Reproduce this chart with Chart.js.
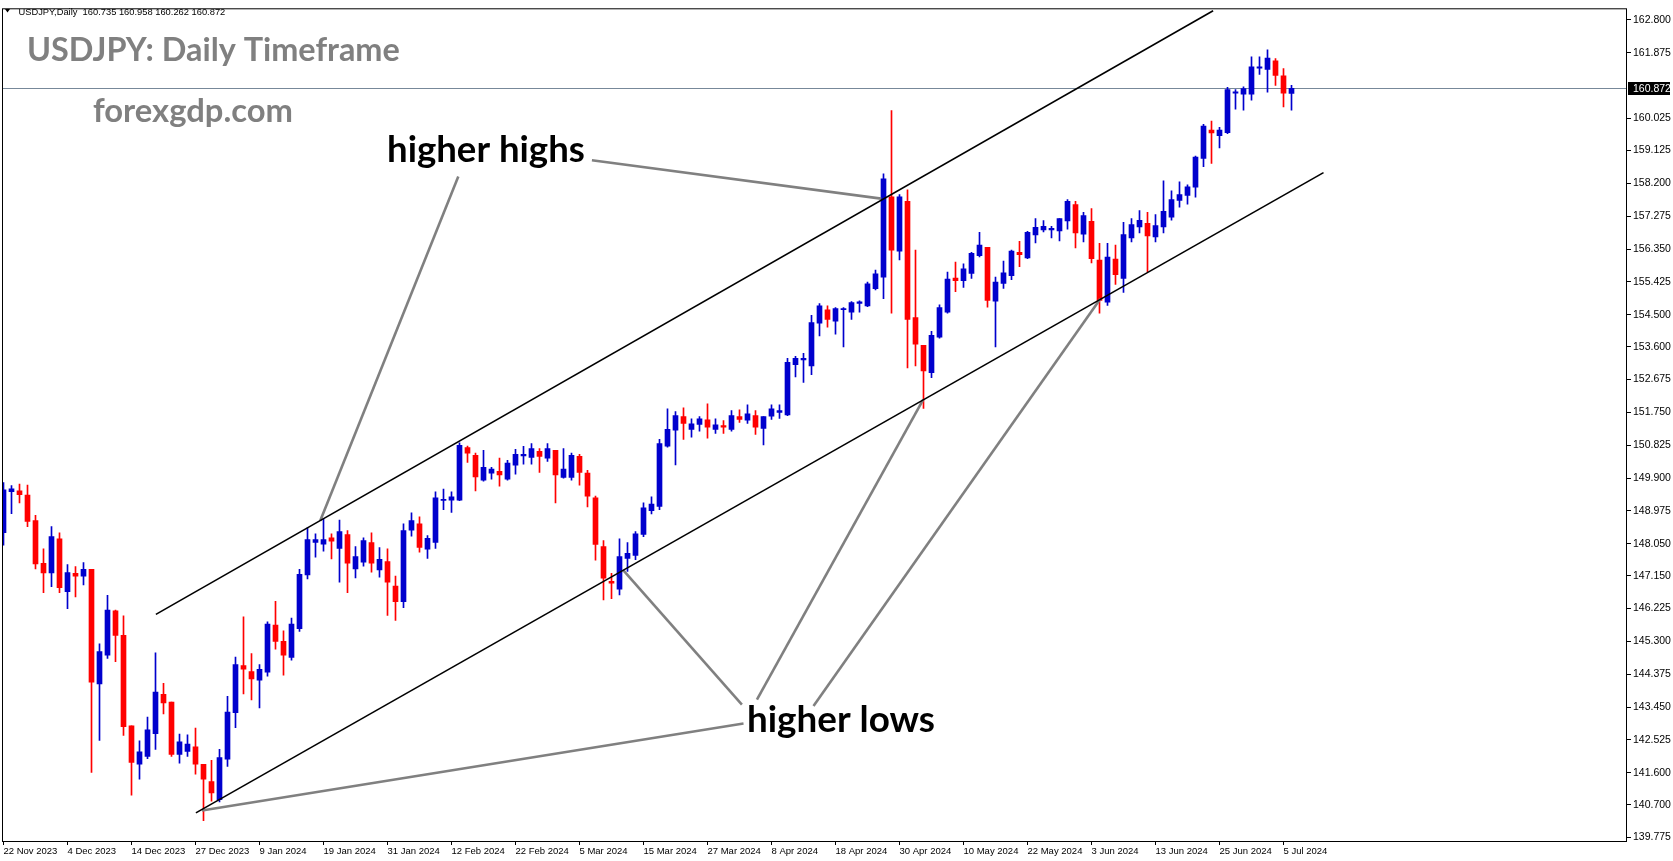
<!DOCTYPE html>
<html>
<head>
<meta charset="utf-8">
<script src="https://cdn.jsdelivr.net/npm/chart.js@4.4.0/dist/chart.umd.min.js"></script>
<style>
  html, body { margin: 0; padding: 0; background: #fff; overflow: hidden; }
  canvas { display: block; }
</style>
</head>
<body>
<canvas id="myChart" width="1673" height="861"></canvas>
<script>
// USDJPY daily, 22 Nov 2023 .. 8 Jul 2024 (one entry per bar)
var opens = [148.36,149.52,149.54,149.42,148.70,147.50,147.23,148.19,146.70,147.22,147.14,147.33,144.10,144.91,146.16,145.47,142.92,141.84,142.06,142.70,
  143.81,143.59,142.12,142.20,142.33,141.84,141.35,140.84,141.98,143.29,144.62,144.45,144.21,144.43,145.76,145.30,144.85,145.66,147.17,148.09,
  148.04,148.22,147.92,148.31,147.34,147.53,148.08,147.31,147.55,146.86,146.42,148.43,148.61,147.90,148.09,149.27,149.28,149.28,150.76,150.54,
  149.84,150.04,150.09,149.87,150.26,150.52,150.48,150.65,150.46,150.68,149.92,149.92,150.51,150.04,149.34,147.97,146.99,146.77,147.64,147.72,
  148.31,148.98,149.10,150.80,151.25,151.63,151.27,151.41,151.54,151.27,151.38,151.27,151.63,151.53,151.66,151.30,151.64,151.75,151.68,153.09,
  153.23,153.06,154.26,154.64,154.32,154.64,154.57,154.82,154.75,155.23,155.56,157.82,156.29,157.69,154.42,153.64,152.87,153.87,154.57,155.53,
  155.46,155.66,156.16,156.40,154.88,155.38,155.60,156.26,156.10,156.75,156.89,156.89,156.86,157.14,157.60,156.77,157.13,156.04,154.85,156.07,
  155.52,156.66,156.97,157.07,156.69,156.97,157.25,157.72,157.86,158.09,158.90,159.70,159.54,159.63,160.74,160.71,160.71,161.44,161.41,161.65,
  161.23,160.735];
var highs = [149.77,149.69,149.73,149.70,148.85,147.91,148.53,148.36,147.46,147.41,147.52,147.33,145.23,146.60,146.18,146.02,142.92,142.50,143.17,144.98,
  144.12,143.59,142.69,142.67,142.86,141.84,141.95,142.26,143.75,144.86,145.99,144.96,144.65,145.85,146.43,145.60,145.96,147.33,148.50,148.33,
  148.75,148.33,148.72,148.42,147.97,148.22,148.36,147.94,147.91,147.14,148.61,148.92,148.81,148.28,149.51,149.59,149.51,150.89,150.80,150.60,
  150.68,150.20,150.46,150.40,150.71,150.79,150.87,150.73,150.87,150.68,150.73,150.60,150.57,150.12,149.39,148.14,147.22,148.19,148.08,148.39,
  149.20,149.37,150.99,151.85,151.77,151.88,151.57,151.63,151.99,151.57,151.52,151.80,151.82,151.96,151.80,151.63,151.96,151.96,153.27,153.33,
  153.41,154.48,154.81,154.75,154.70,154.70,154.87,154.89,155.42,155.76,158.47,160.25,157.88,158.02,156.32,153.64,154.03,154.78,155.70,155.98,
  155.93,156.26,156.82,156.40,155.56,156.01,156.32,156.57,156.85,157.21,157.15,156.99,157.21,157.74,157.69,157.38,157.49,156.51,156.51,156.46,
  157.10,157.21,157.43,157.38,157.32,158.27,157.99,158.24,158.16,158.97,159.86,159.95,159.78,160.90,160.84,160.92,161.76,161.76,161.96,161.71,
  161.43,160.958];
var lows = [148.01,148.90,149.20,148.53,147.34,146.67,146.84,146.67,146.22,146.55,146.89,141.61,142.51,144.82,144.73,142.65,140.97,141.42,142.00,142.26,
  143.26,142.06,141.87,142.06,141.56,140.25,140.80,140.78,141.78,142.87,143.82,143.65,143.43,144.32,145.08,144.35,144.77,145.58,147.06,147.67,
  147.84,147.62,146.97,146.67,147.09,147.42,147.25,147.11,146.03,145.89,146.25,148.26,147.81,147.64,147.92,149.01,148.93,149.26,150.34,149.54,
  149.81,149.87,149.67,149.84,150.01,150.29,150.29,150.06,150.37,149.20,149.90,149.84,149.70,149.09,147.59,146.47,146.50,146.61,147.27,147.60,
  148.25,148.89,149.01,150.77,150.27,150.99,151.05,151.22,151.02,151.16,151.16,151.22,151.47,151.44,151.13,150.83,151.55,151.58,151.66,152.75,
  152.59,152.81,153.90,154.15,153.95,153.59,154.37,154.57,154.73,155.20,154.95,154.54,156.04,153.00,153.06,151.86,152.73,153.84,154.54,155.15,
  155.27,155.52,156.13,154.71,153.59,155.24,155.49,155.85,156.08,156.52,156.83,156.66,156.58,156.91,156.38,156.55,155.96,154.54,154.76,155.35,
  155.13,156.55,156.80,155.71,156.55,156.80,157.16,157.53,157.61,157.81,158.67,158.76,159.20,159.60,160.29,160.26,160.54,161.27,160.77,160.96,
  160.35,160.262];
var closes = [149.57,149.60,149.43,148.68,147.48,147.23,148.25,146.81,147.24,147.14,147.33,144.15,145.01,146.18,145.47,142.90,141.89,142.19,142.81,143.87,
  143.57,142.12,142.47,142.41,141.84,141.42,141.03,142.03,143.31,144.65,144.52,144.24,144.51,145.79,145.30,144.91,145.79,147.19,148.17,148.17,
  148.17,148.12,148.39,147.50,147.69,148.14,147.50,147.61,146.97,146.42,148.42,148.70,147.95,148.20,149.34,149.29,149.37,150.82,150.60,149.93,
  150.20,150.15,149.99,150.32,150.57,150.57,150.73,150.51,150.73,149.99,150.15,150.54,150.06,149.39,148.03,147.08,146.94,147.69,147.78,148.33,
  149.06,149.17,150.87,151.27,151.66,151.44,151.43,151.57,151.33,151.40,151.33,151.66,151.55,151.71,151.33,151.63,151.85,151.80,153.16,153.27,
  153.27,154.28,154.75,154.37,154.67,154.67,154.84,154.86,155.37,155.65,158.33,156.32,157.82,154.37,153.67,152.92,153.92,154.70,155.50,155.46,
  155.79,156.23,156.46,154.90,155.42,155.68,156.29,156.19,156.82,156.96,156.99,156.93,157.21,157.69,156.80,157.29,156.08,154.90,156.12,155.63,
  156.76,157.04,157.16,156.72,157.01,157.41,157.74,157.88,158.10,158.94,159.81,159.62,159.70,160.84,160.78,160.87,161.48,161.48,161.73,161.24,
  160.74,160.872];

var tickLabels = ['22 Nov 2023','4 Dec 2023','14 Dec 2023','27 Dec 2023','9 Jan 2024','19 Jan 2024','31 Jan 2024','12 Feb 2024',
  '22 Feb 2024','5 Mar 2024','15 Mar 2024','27 Mar 2024','8 Apr 2024','18 Apr 2024','30 Apr 2024','10 May 2024','22 May 2024',
  '3 Jun 2024','13 Jun 2024','25 Jun 2024','5 Jul 2024'];
var barsPerTick = 8;
var priceTicks = [162.8,161.875,160.025,159.125,158.2,157.275,156.35,155.425,154.5,153.6,152.675,151.75,150.825,149.9,
  148.975,148.05,147.15,146.225,145.3,144.375,143.45,142.525,141.6,140.7,139.775];

// channel lines and pointer lines, in (bar index, price)
var upperChannel = [{x: 19.05, y: 146.06}, {x: 151.2, y: 163.06}];
var lowerChannel = [{x: 24.05, y: 140.47}, {x: 165, y: 158.5}];
var highsPointers = [
  [{x: 73.55, y: 158.85}, {x: 109.71, y: 157.77}],
  [{x: 56.85, y: 158.39}, {x: 39.59, y: 148.70}]
];
var lowsPointers = [
  [{x: 92.5, y: 142.99}, {x: 24.8, y: 140.54}],
  [{x: 92.3, y: 143.52}, {x: 77.46, y: 147.31}],
  [{x: 94.18, y: 143.66}, {x: 114.96, y: 152.11}],
  [{x: 101.25, y: 143.48}, {x: 137.09, y: 154.94}]
];

var bullColor = '#0000cd';
var bearColor = '#ff0000';
var candleColors = closes.map(function (c, i) { return c >= opens[i] ? bullColor : bearColor; });
var bodies = opens.map(function (o, i) { return {x: i, y: [o, closes[i]]}; });
var wicks = highs.map(function (h, i) { return {x: i, y: [lows[i], h]}; });
var tickIdx = tickLabels.map(function (t, i) { return i * barsPerTick; });

function segment(points, color, width) {
  return {type: 'line', data: points, borderColor: color, borderWidth: width,
          pointRadius: 0, fill: false, tension: 0};
}

function fitText(ctx, text, x, y, width, weight, family, color) {
  ctx.font = weight + ' 100px ' + family;
  var size = 100 * width / ctx.measureText(text).width;
  ctx.font = weight + ' ' + size.toFixed(2) + 'px ' + family;
  ctx.fillStyle = color;
  ctx.textAlign = 'left';
  ctx.textBaseline = 'alphabetic';
  ctx.fillText(text, x, y);
}

var decor = {
  id: 'decor',
  beforeDraw: function (chart) {
    var ctx = chart.ctx;
    ctx.save();
    ctx.fillStyle = '#fff';
    ctx.fillRect(0, 0, chart.width, chart.height);
    ctx.restore();
  },
  beforeDatasetsDraw: function (chart) {
    var ctx = chart.ctx, a = chart.chartArea;
    var y = Math.round(chart.scales.y.getPixelForValue(closes[closes.length - 1])) + 0.5;
    ctx.save();
    ctx.strokeStyle = '#778899';
    ctx.lineWidth = 1;
    ctx.beginPath();
    ctx.moveTo(a.left, y);
    ctx.lineTo(a.right, y);
    ctx.stroke();
    ctx.restore();
  },
  afterDraw: function (chart) {
    var ctx = chart.ctx, a = chart.chartArea;
    ctx.save();
    ctx.strokeStyle = '#000';
    ctx.lineWidth = 1;
    ctx.strokeRect(a.left + 0.5, a.top + 0.5, a.right - a.left, a.bottom - a.top);

    // header line
    ctx.fillStyle = '#000';
    ctx.beginPath();
    ctx.moveTo(5, 9); ctx.lineTo(10, 9); ctx.lineTo(7.5, 12.5); ctx.closePath();
    ctx.fill();
    fitText(ctx, 'USDJPY,Daily  160.735 160.958 160.262 160.872', 18.5, 15, 207, 'normal', 'Liberation Sans', '#000');

    fitText(ctx, 'USDJPY: Daily Timeframe', 27, 60.5, 373, 'bold', 'Lato', '#808080');
    fitText(ctx, 'forexgdp.com', 93, 121.5, 200, 'bold', 'Lato', '#808080');
    fitText(ctx, 'higher highs', 387, 161.5, 198, 'bold', 'Lato', '#000');
    fitText(ctx, 'higher lows', 747, 732, 188, 'bold', 'Lato', '#000');

    // current price tag
    var last = closes[closes.length - 1];
    var py = chart.scales.y.getPixelForValue(last);
    ctx.fillStyle = '#000';
    ctx.fillRect(a.right + 2, Math.round(py) - 6, 42, 13);
    ctx.fillStyle = '#fff';
    ctx.font = '10.5px "Liberation Sans"';
    ctx.textBaseline = 'middle';
    ctx.fillText(last.toFixed(3), a.right + 7, py + 0.5);
    ctx.restore();
  }
};

var ctx = document.getElementById('myChart').getContext('2d');
var candleChart = new Chart(ctx, {
  type: 'bar',
  data: {
    datasets: [
      segment(upperChannel, '#000', 1.6),
      segment(lowerChannel, '#000', 1.6),
      segment(highsPointers[0], '#808080', 2.6),
      segment(highsPointers[1], '#808080', 2.6),
      segment(lowsPointers[0], '#808080', 2.6),
      segment(lowsPointers[1], '#808080', 2.6),
      segment(lowsPointers[2], '#808080', 2.6),
      segment(lowsPointers[3], '#808080', 2.6),
      {
        label: 'body',
        data: bodies,
        backgroundColor: candleColors,
        borderWidth: 0,
        borderSkipped: false,
        barThickness: 5,
        minBarLength: 1,
        grouped: false
      },
      {
        label: 'wick',
        data: wicks,
        backgroundColor: candleColors,
        borderWidth: 0,
        borderSkipped: false,
        barThickness: 1,
        minBarLength: 1,
        grouped: false
      }
    ]
  },
  options: {
    responsive: false,
    animation: false,
    devicePixelRatio: 1,
    layout: {padding: {left: 2, top: 1, right: 0, bottom: 0}},
    plugins: {legend: {display: false}, tooltip: {enabled: false}},
    scales: {
      x: {
        type: 'linear',
        min: -0.1875,
        max: 202.8125,
        bounds: 'data',
        offset: false,
        afterBuildTicks: function (scale) {
          scale.ticks = tickIdx.map(function (v) { return {value: v}; });
        },
        afterFit: function (scale) { scale.height = 20; },
        border: {display: false},
        grid: {drawOnChartArea: false, drawTicks: true, tickLength: 4, tickColor: '#000', offset: false},
        ticks: {
          align: 'start', maxRotation: 0, minRotation: 0, autoSkip: false, padding: 1, color: '#000',
          font: {family: 'Liberation Sans', size: 9.5},
          callback: function (value, index) { return tickLabels[index]; }
        }
      },
      y: {
        type: 'linear',
        position: 'right',
        min: 139.679,
        max: 163.129,
        bounds: 'data',
        afterBuildTicks: function (scale) {
          scale.ticks = priceTicks.map(function (v) { return {value: v}; });
        },
        afterFit: function (scale) { scale.width = 47; },
        border: {display: false},
        grid: {drawOnChartArea: false, drawTicks: true, tickLength: 5, tickColor: '#000'},
        ticks: {
          autoSkip: false, padding: 2, color: '#000',
          font: {family: 'Liberation Sans', size: 10.5},
          callback: function (value) { return value.toFixed(3); }
        }
      }
    }
  },
  plugins: [decor]
});
</script>
</body>
</html>
